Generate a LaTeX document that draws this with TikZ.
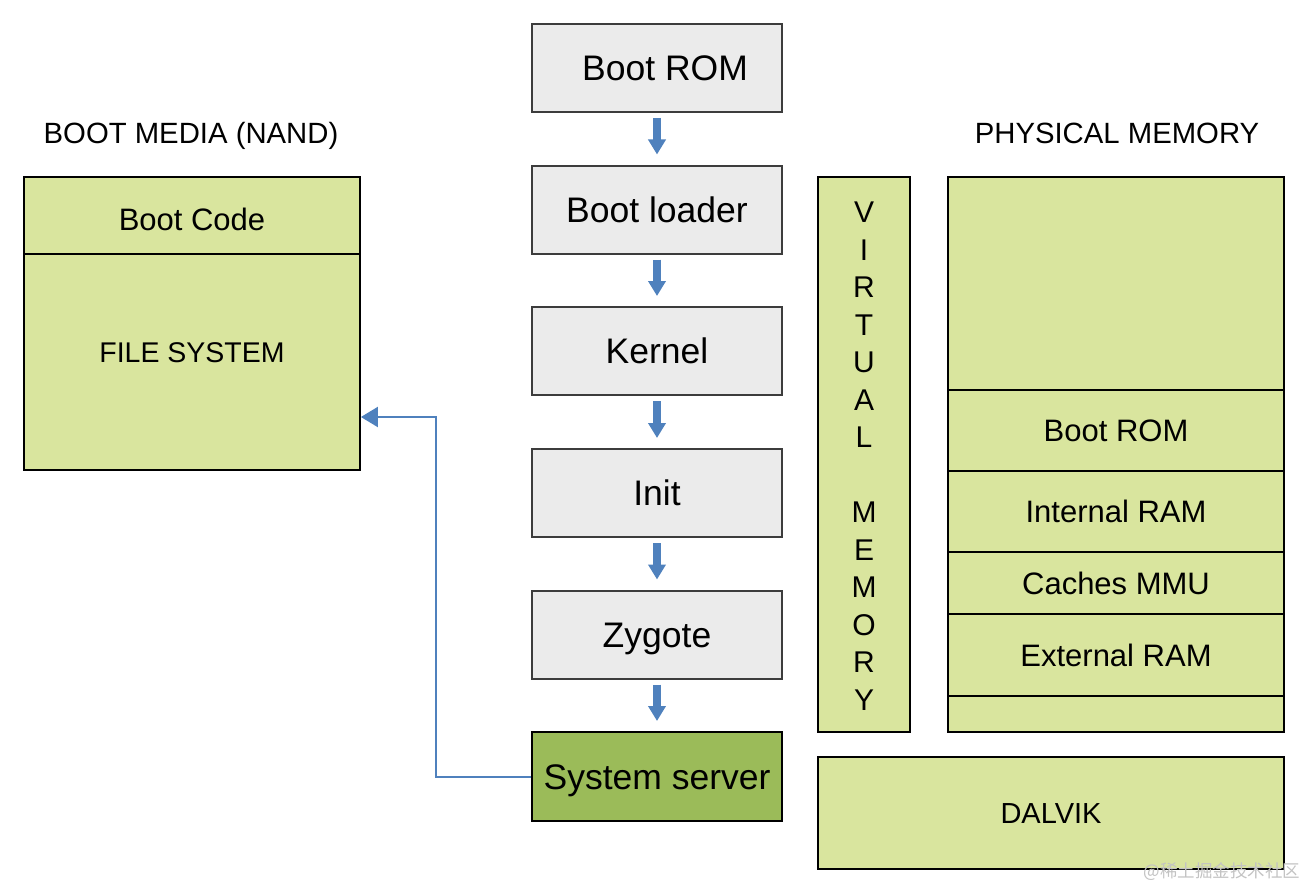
\documentclass[tikz,border=0pt]{standalone}
\usepackage{fontspec}
\setmainfont{Liberation Sans}
\newfontfamily\cjk{Noto Sans CJK SC}
\usetikzlibrary{arrows.meta}
\definecolor{greyfill}{RGB}{235,235,235}
\definecolor{greyline}{RGB}{60,60,60}
\definecolor{lgreen}{RGB}{217,229,158}
\definecolor{dgreen}{RGB}{155,187,89}
\definecolor{arrblue}{RGB}{79,129,189}
\definecolor{wmgrey}{RGB}{195,195,195}
\begin{document}
\begin{tikzpicture}[x=1pt,y=-1pt,
  stepbox/.style={draw=greyline,line width=2pt,fill=greyfill,minimum width=250pt,minimum height=88pt,inner sep=0pt,text height=25.5pt,text depth=0pt,font=\fontsize{35.5}{40}\selectfont},
  greenbox/.style={draw=black,line width=1.8pt,fill=lgreen,inner sep=0pt},
  lbl/.style={inner sep=0pt,text height=22pt,text depth=0pt,font=\fontsize{31}{34}\selectfont},
  caps/.style={inner sep=0pt,text height=20.5pt,text depth=0pt,font=\fontsize{28.5}{32}\selectfont},
  ttl/.style={inner sep=0pt,text height=21pt,text depth=0pt,font=\fontsize{29.3}{32}\selectfont},
  fatarrow/.style={draw=arrblue,line width=8pt,-{Triangle[width=17pt,length=15pt]},shorten <=5pt,shorten >=10pt},
  conn/.style={draw=arrblue,line width=2pt,-{Triangle[width=20pt,length=17pt]}}]
\useasboundingbox (0,0) rectangle (1309,888);
% central chain
\node[stepbox] (rom) at (657,68) {\hspace*{16pt}Boot ROM};
\node[stepbox] (loader) at (657,209.5) {Boot loader};
\node[stepbox] (kernel) at (657,351) {Kernel};
\node[stepbox] (init) at (657,493) {Init};
\node[stepbox] (zygote) at (657,634.5) {Zygote};
\node[stepbox,draw=black,fill=dgreen,minimum height=89pt] (sys) at (657,776.5) {System server};
\draw[fatarrow] (rom.south) -- (loader.north);
\draw[fatarrow] (loader.south) -- (kernel.north);
\draw[fatarrow] (kernel.south) -- (init.north);
\draw[fatarrow] (init.south) -- (zygote.north);
\draw[fatarrow] (zygote.south) -- (sys.north);
% boot media
\node[ttl] (bmtitle) at (191,133) {BOOT MEDIA (NAND)};
\node[greenbox,minimum width=336pt,minimum height=77pt] (bootcode) at (192,215.5) {};
\node[greenbox,minimum width=336pt,minimum height=216pt] (fs) at (192,362) {};
\node[lbl] (bctext) at (192,219) {Boot Code};
\node[caps] (fstext) at (192,352) {FILE SYSTEM};
% connector
\coordinate (turn) at (436,417);
\draw[conn] (sys.west) -| (turn) -- (turn -| fs.east);
% virtual memory
\node[greenbox,minimum width=92pt,minimum height=555pt] (vm) at (864,454.5) {};
\node[inner sep=0pt,align=center,font=\fontsize{30}{37.5}\selectfont] (vmtext) at (864,456)
  {V\\I\\R\\T\\U\\A\\L\\\mbox{}\\M\\E\\M\\O\\R\\Y};
% physical memory
\node[ttl] (pmtitle) at (1117,133) {PHYSICAL MEMORY};
\node[greenbox,minimum width=336pt,minimum height=213pt] (pm0) at (1116,283.5) {};
\node[greenbox,lbl,minimum width=336pt,minimum height=81pt] (pm1) at (1116,430.5) {Boot ROM};
\node[greenbox,lbl,minimum width=336pt,minimum height=81pt] (pm2) at (1116,511.5) {Internal RAM};
\node[greenbox,lbl,minimum width=336pt,minimum height=62pt] (pm3) at (1116,583) {Caches MMU};
\node[greenbox,lbl,minimum width=336pt,minimum height=82pt] (pm4) at (1116,655) {External RAM};
\node[greenbox,minimum width=336pt,minimum height=36pt] (pm5) at (1116,714) {};
% dalvik
\node[greenbox,caps,font=\fontsize{29}{32}\selectfont,minimum width=466pt,minimum height=112pt] (dalvik) at (1051,813) {DALVIK};
% watermark
\node[inner sep=0pt,text=wmgrey,font=\cjk\fontsize{17.5}{20}\selectfont] (wm) at (1222,872) {@稀土掘金技术社区};
\end{tikzpicture}
\end{document}
